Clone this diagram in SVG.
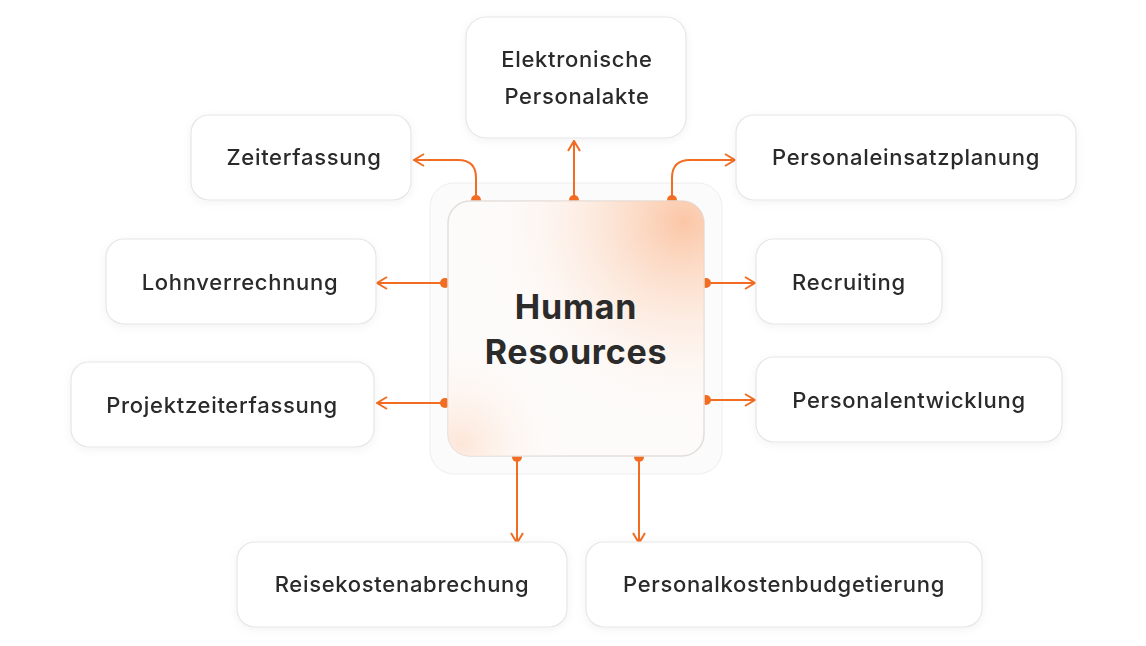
<svg xmlns="http://www.w3.org/2000/svg" width="1146" height="646" viewBox="0 0 1146 646">
<defs>
<style>
.n{fill:#fff;stroke:#e6e6e6;stroke-width:1.2}
.t{font-family:Inter,"Liberation Sans",sans-serif;font-size:22px;font-weight:500;letter-spacing:0.7px;fill:#2b2b2b;text-anchor:middle}
.c{fill:none;stroke:#f26c22;stroke-width:2;marker-end:url(#a)}
.d{fill:#f26c22}
</style>
<marker id="a" viewBox="0 0 12 14" refX="11" refY="7" markerWidth="12" markerHeight="14" markerUnits="userSpaceOnUse" orient="auto"><path d="M1 1 L11 7 L1 13" fill="none" stroke="#f26c22" stroke-width="2"/></marker>
<radialGradient id="g1" cx="0.92" cy="0.08" r="0.85"><stop offset="0" stop-color="#fbc6a6"/><stop offset="0.35" stop-color="#fcdcc8" stop-opacity="0.7"/><stop offset="1" stop-color="#fff" stop-opacity="0"/></radialGradient>
<radialGradient id="g2" cx="0.05" cy="0.95" r="0.45"><stop offset="0" stop-color="#fde6d8"/><stop offset="1" stop-color="#fff" stop-opacity="0"/></radialGradient>
<filter id="s" x="-20%" y="-20%" width="140%" height="140%"><feDropShadow dx="0" dy="2" stdDeviation="4" flood-color="#000" flood-opacity="0.05"/></filter>
</defs>
<rect width="1146" height="646" fill="#fff"/>
<rect x="430" y="183" width="292" height="291" rx="24" fill="#fbfbfb" stroke="#eeeeee"/>
<g id="connectors">
<path class="c" d="M476 199 V178 Q476 160 458 160 H414"/>
<path class="c" d="M574 199 V141"/>
<path class="c" d="M672 199 V178 Q672 160 690 160 H735"/>
<path class="c" d="M446 283 H377"/>
<path class="c" d="M446 403 H377"/>
<path class="c" d="M706 283 H755"/>
<path class="c" d="M706 400 H755"/>
<path class="c" d="M517 458 V543"/>
<path class="c" d="M639 458 V543"/>
<circle class="d" cx="476" cy="200" r="5"/><circle class="d" cx="574" cy="200" r="5"/><circle class="d" cx="672" cy="200" r="5"/>
<circle class="d" cx="445" cy="283" r="5"/><circle class="d" cx="445" cy="403" r="5"/>
<circle class="d" cx="706" cy="283" r="5"/><circle class="d" cx="706" cy="400" r="5"/>
<circle class="d" cx="517" cy="457" r="5"/><circle class="d" cx="639" cy="457" r="5"/>
</g>
<g id="hr">
<rect x="448" y="201" width="256" height="255" rx="22" fill="#fdfbfa" stroke="#e2dedc" stroke-width="1.5"/>
<rect x="448" y="201" width="256" height="255" rx="22" fill="url(#g1)"/>
<rect x="448" y="201" width="256" height="255" rx="22" fill="url(#g2)"/>
<text class="t" x="576" y="319" style="font-size:34px;font-weight:700;letter-spacing:0.8px">Human</text>
<text class="t" x="576" y="364" style="font-size:34px;font-weight:700;letter-spacing:0.8px">Resources</text>
</g>
<g id="n1" filter="url(#s)"><rect class="n" x="466" y="17" width="220" height="121" rx="20"/><text class="t" x="577" y="67">Elektronische</text><text class="t" x="577" y="104">Personalakte</text></g>
<g id="n2" filter="url(#s)"><rect class="n" x="191" y="115" width="220" height="85" rx="18"/><text class="t" x="304" y="165">Zeiterfassung</text></g>
<g id="n3" filter="url(#s)"><rect class="n" x="736" y="115" width="340" height="85" rx="18"/><text class="t" x="906" y="165">Personaleinsatzplanung</text></g>
<g id="n4" filter="url(#s)"><rect class="n" x="106" y="239" width="270" height="85" rx="18"/><text class="t" x="240" y="290">Lohnverrechnung</text></g>
<g id="n5" filter="url(#s)"><rect class="n" x="756" y="239" width="186" height="85" rx="18"/><text class="t" x="849" y="290">Recruiting</text></g>
<g id="n6" filter="url(#s)"><rect class="n" x="71" y="362" width="303" height="85" rx="18"/><text class="t" x="222" y="413">Projektzeiterfassung</text></g>
<g id="n7" filter="url(#s)"><rect class="n" x="756" y="357" width="306" height="85" rx="18"/><text class="t" x="909" y="408">Personalentwicklung</text></g>
<g id="n8" filter="url(#s)"><rect class="n" x="237" y="542" width="330" height="85" rx="18"/><text class="t" x="402" y="592">Reisekostenabrechung</text></g>
<g id="n9" filter="url(#s)"><rect class="n" x="586" y="542" width="396" height="85" rx="18"/><text class="t" x="784" y="592">Personalkostenbudgetierung</text></g>
</svg>
